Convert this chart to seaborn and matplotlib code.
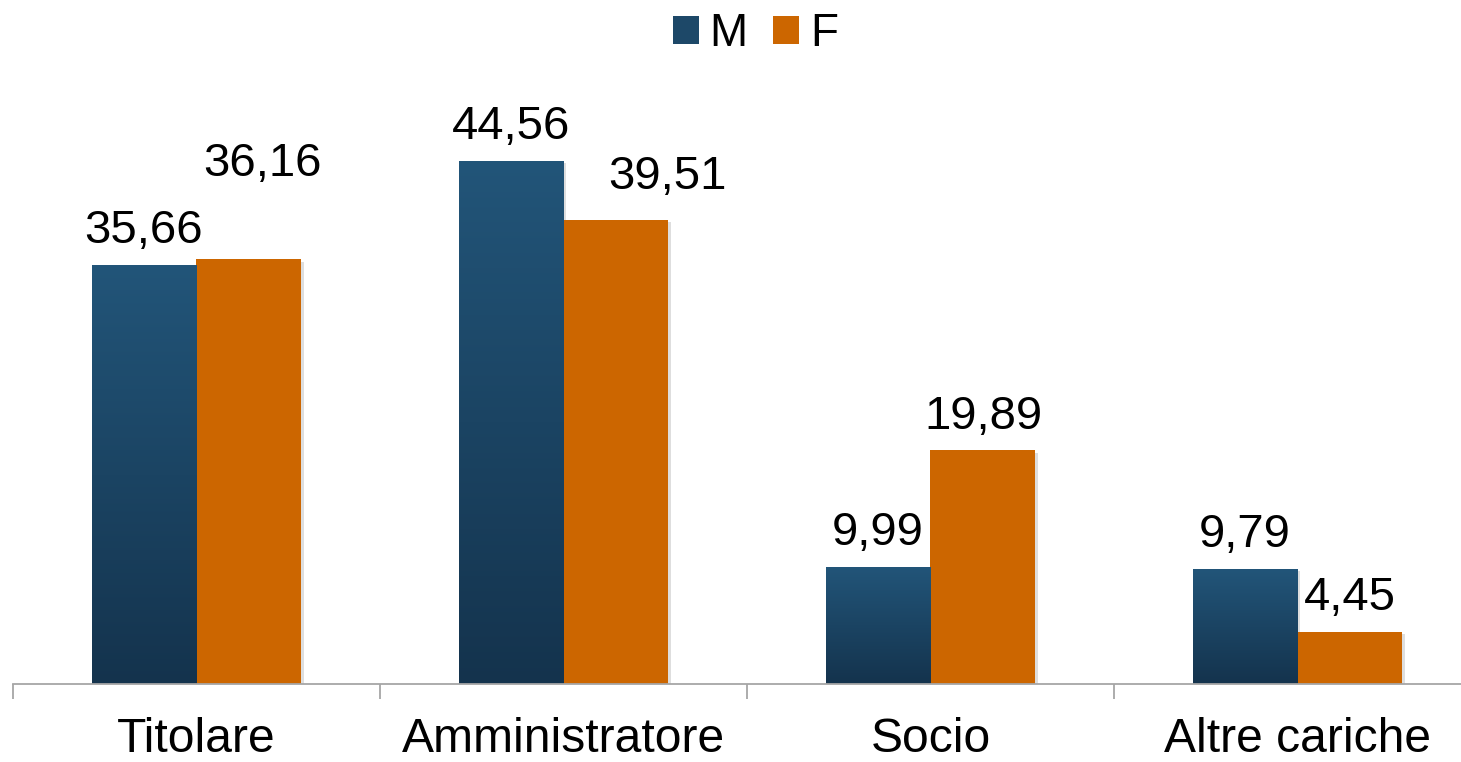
import numpy as np
import pandas as pd
import matplotlib
matplotlib.use("Agg")
import matplotlib.pyplot as plt
import matplotlib.patheffects as pe
from matplotlib.patches import Patch
from matplotlib.colors import LinearSegmentedColormap
import seaborn as sns

# ---- data ----
categories = ["Titolare", "Amministratore", "Socio", "Altre cariche"]
series_names = ["M", "F"]
values_M = [35.66, 44.56, 9.99, 9.79]
values_F = [36.16, 39.51, 19.89, 4.45]

# label offsets (points) for labels Excel moved to avoid overlap: (series, category index) -> (dx, dy)
label_offsets = {("F", 0): (9.4, 59.8), ("F", 1): (36.7, 22.3)}
default_offset = (0, 15.8)

col_M_top = "#225579"
col_M_bot = "#14334d"
col_M_mid = "#1d4868"
col_F = "#cc6600"

df = pd.DataFrame({
    "categoria": categories * 2,
    "sesso": ["M"] * len(categories) + ["F"] * len(categories),
    "valore": values_M + values_F,
})

sns.set_theme(style="white")
plt.rcParams["font.family"] = ["Liberation Sans", "DejaVu Sans"]
plt.rcParams["text.color"] = "black"

fig = plt.figure(figsize=(14.61, 7.62), dpi=100)
ax = fig.add_axes([13 / 1461, 78 / 762, 1468 / 1461, (684 - 60) / 762])

sns.barplot(data=df, x="categoria", y="valore", hue="sesso", order=categories,
            hue_order=series_names, palette={"M": col_M_mid, "F": col_F},
            width=0.572, gap=0, saturation=1, legend=False, ax=ax, linewidth=0)

ylim = (0, 53.15)
xlim = (-0.5, 3.5)

grad = np.linspace(0, 1, 256).reshape(-1, 1)
cmap = LinearSegmentedColormap.from_list("mgrad", [col_M_bot, col_M_top])

shadow = [pe.SimplePatchShadow(offset=(2, -1.5), alpha=0.13, shadow_rgbFace="#000000"), pe.Normal()]

n = len(categories)
for i, p in enumerate(ax.patches):
    p.set_path_effects(shadow)
    if i < n:  # M bars
        x, w, h = p.get_x(), p.get_width(), p.get_height()
        im = ax.imshow(grad, extent=[x, x + w, 0, h], origin="lower", aspect="auto",
                       cmap=cmap, zorder=p.get_zorder() + 0.1, interpolation="bilinear")
        im.set_clip_path(p)

# value labels
for i, p in enumerate(ax.patches[:2 * n]):
    s = "M" if i < n else "F"
    ci = i % n
    v = values_M[ci] if s == "M" else values_F[ci]
    dx, dy = label_offsets.get((s, ci), default_offset)
    ax.annotate(f"{v:.2f}".replace(".", ","), (p.get_x() + p.get_width() / 2, p.get_height()),
                xytext=(dx, dy), textcoords="offset points", ha="center", va="baseline",
                fontsize=34, color="black")

ax.set_xlim(*xlim)
ax.set_ylim(*ylim)
ax.set_xlabel("")
ax.set_ylabel("")
ax.set_yticks([])
for sp in ["top", "right", "left"]:
    ax.spines[sp].set_visible(False)
ax.spines["bottom"].set_color("#a6a6a6")
ax.spines["bottom"].set_linewidth(1.3)

ax.set_xticks(range(n))
ax.set_xticklabels(categories, fontsize=34.6, color="black")
ax.set_xticks(np.arange(-0.5, n, 1.0), minor=True)
ax.tick_params(axis="x", which="major", length=0, pad=24, labelcolor="black")
ax.tick_params(axis="x", which="minor", length=10.8, width=1.3, color="#a6a6a6", direction="out", bottom=True)

handles = [Patch(facecolor=col_M_mid, edgecolor="none", label="M"),
           Patch(facecolor=col_F, edgecolor="none", label="F")]
leg = fig.legend(handles=handles, loc="center", bbox_to_anchor=(0.517, 0.955), ncol=2, frameon=False,
                 fontsize=33, handlelength=0.57, handleheight=0.57, handletextpad=0.24,
                 columnspacing=0.55, borderpad=0)
for t in leg.get_texts():
    t.set_color("black")

fig.savefig("out.png", dpi=100)
